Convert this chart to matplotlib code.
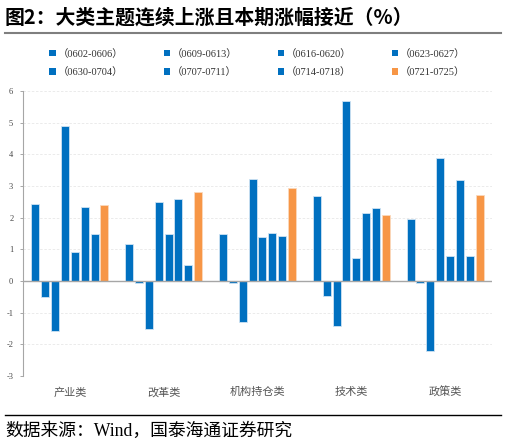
import matplotlib
matplotlib.use("Agg")
import matplotlib.pyplot as plt
from matplotlib.patches import Patch
from matplotlib.lines import Line2D
import numpy as np

categories = ["产业类", "改革类", "机构持仓类", "技术类", "政策类"]
periods = ["（0602-0606）", "（0609-0613）", "（0616-0620）", "（0623-0627）",
           "（0630-0704）", "（0707-0711）", "（0714-0718）", "（0721-0725）"]
v0602 = [2.43, 1.18, 1.49, 2.68, 1.96]
v0609 = [-0.50, -0.05, -0.05, -0.46, -0.05]
v0616 = [-1.57, -1.52, -1.31, -1.43, -2.20]
v0623 = [4.88, 2.49, 3.22, 5.67, 3.89]
v0630 = [0.91, 1.47, 1.40, 0.73, 0.78]
v0707 = [2.33, 2.59, 1.52, 2.16, 3.20]
v0714 = [1.47, 0.51, 1.41, 2.31, 0.78]
v0721 = [2.41, 2.80, 2.94, 2.07, 2.71]
series = [v0602, v0609, v0616, v0623, v0630, v0707, v0714, v0721]
yticks = [-3, -2, -1, 0, 1, 2, 3, 4, 5, 6]

BLUE = "#0070C0"
ORANGE = "#F79646"
colors = [BLUE] * 7 + [ORANGE]

cjk = ["Noto Sans CJK SC", "DejaVu Sans"]
serif_cjk = ["Liberation Serif", "Noto Sans CJK SC"]

fig = plt.figure(figsize=(5.06, 4.45), dpi=100)
ax = fig.add_axes([23/506, 1-376/445, (492-23)/506, (376-91)/445])

x = np.arange(len(categories))
pitch = 0.105
width = 0.085
for i, (vals, c) in enumerate(zip(series, colors)):
    off = (i - 3.5) * pitch
    ax.bar(x + off, vals, width=width, color=c, edgecolor="#cfe3f3" if c == BLUE else "#fbd9bd",
           linewidth=0.6, zorder=3)

ax.set_xlim(-0.5, 4.5)
ax.set_ylim(-3, 6)
ax.set_yticks(yticks)
ax.set_yticklabels([str(t) for t in yticks], fontfamily="Liberation Serif", fontsize=6,
                   color="#444444")
ax.set_xticks(x)
ax.set_xticklabels(categories, fontfamily=cjk, fontsize=8, color="#555555")
ax.tick_params(axis="x", length=0, pad=8)
ax.tick_params(axis="y", length=2, width=0.6, color="#999999", pad=5)

for t in yticks:
    if t == 0:
        ax.axhline(0, color="#a6a6a6", lw=1.0, zorder=4)
    else:
        ax.axhline(t, color="#e8e8e8", lw=0.6, ls=(0, (3, 2)), zorder=1)

for s in ["top", "right", "bottom"]:
    ax.spines[s].set_visible(False)
ax.spines["left"].set_color("#a6a6a6")
ax.spines["left"].set_linewidth(0.8)

# legend filled row by row (matplotlib fills column-wise)
ncol = 4
order = [r * ncol + c for c in range(ncol) for r in range(2)]
handles = [Patch(facecolor=colors[k], edgecolor="none") for k in order]
labels = [periods[k] for k in order]
leg = fig.legend(handles, labels, loc="center", bbox_to_anchor=(0.079, 0.8585 - 0.04, 0.86, 0.08),
                 mode="expand", ncol=ncol, frameon=False, handlelength=0.6, handleheight=0.6,
                 handletextpad=0.2, columnspacing=1.0, labelspacing=0.85,
                 prop={"family": serif_cjk, "size": 7.5})
for txt in leg.get_texts():
    txt.set_color("#333333")

fig.text(5/506, 1-17/445, "图2：大类主题连续上涨且本期涨幅接近（%）", fontfamily=cjk,
         fontsize=14.3, fontweight="bold", va="center", ha="left")
fig.add_artist(Line2D([5/506, 501/506], [1-33/445, 1-33/445], color="#7f7f7f", lw=1.5,
                      transform=fig.transFigure))
fig.add_artist(Line2D([5/506, 501/506], [1-415/445, 1-415/445], color="black", lw=1.0,
                      transform=fig.transFigure))
fig.text(5/506, 1-431/445, "数据来源：Wind，国泰海通证券研究", fontfamily=serif_cjk,
         fontsize=12.8, va="center", ha="left")

fig.savefig("out.png", dpi=100)
